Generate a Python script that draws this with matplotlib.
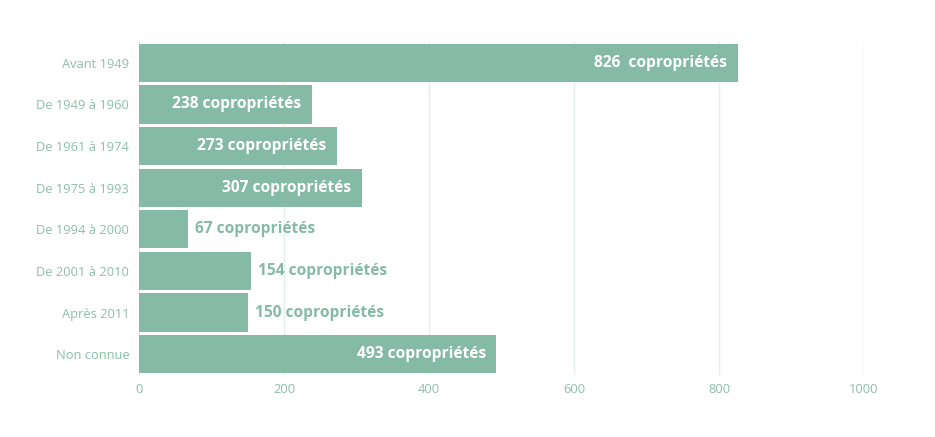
import matplotlib
matplotlib.use('Agg')
import matplotlib.pyplot as plt

# data
categories = ['Avant 1949', 'De 1949 à 1960', 'De 1961 à 1974', 'De 1975 à 1993',
              'De 1994 à 2000', 'De 2001 à 2010', 'Après 2011', 'Non connue']
values = [826, 238, 273, 307, 67, 154, 150, 493]
label_texts = ['826  copropriétés', '238 copropriétés', '273 copropriétés', '307 copropriétés',
               '67 copropriétés', '154 copropriétés', '150 copropriétés', '493 copropriétés']
xticks = [0, 200, 400, 600, 800, 1000]

green = '#85bba6'
tick_col = '#8cbfa9'

fig = plt.figure(figsize=(9.35, 4.37), dpi=100)
ax = fig.add_axes([139/935, 62/437, 725/935, 333/437])

ypos = list(range(len(categories)))
ax.barh(ypos, values, height=0.92, color=green, zorder=2)

ax.set_ylim(len(categories) - 0.5, -0.5)
ax.set_xlim(0, 1000)
ax.set_yticks(ypos)
ax.set_yticklabels(categories, fontsize=9.3, color=tick_col, family='Open Sans')
ax.set_xticks(xticks)
ax.set_xticklabels([str(t) for t in xticks], fontsize=9.3, color=tick_col, family='Open Sans')
ax.tick_params(length=0, pad=7)
ax.tick_params(axis='x', pad=6)
ax.grid(axis='x', color='#e4efea', linewidth=1, zorder=0)
for s in ax.spines.values():
    s.set_visible(False)

# labels inside the bar when it is long enough, outside otherwise
for y, v, t in zip(ypos, values, label_texts):
    if v > 200:
        ax.annotate(t, (v, y), xytext=(-7.5, 0), textcoords='offset points',
                    ha='right', va='center', fontsize=11.2, fontweight='bold',
                    color='white', family='Open Sans', zorder=3)
    else:
        ax.annotate(t, (v, y), xytext=(5, 0), textcoords='offset points',
                    ha='left', va='center', fontsize=11.2, fontweight='bold',
                    color=green, family='Open Sans', zorder=3)

fig.savefig('out.png', dpi=100)
